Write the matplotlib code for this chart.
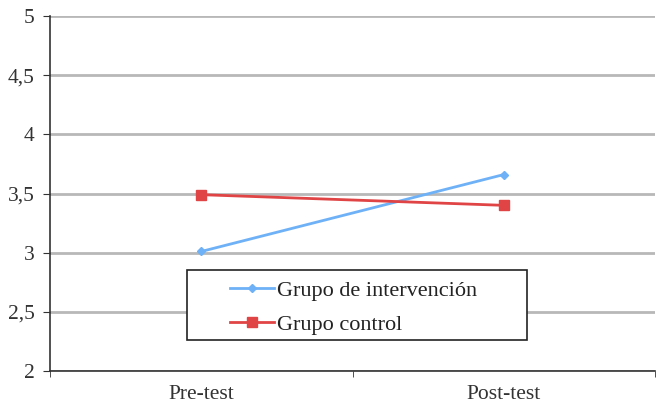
import matplotlib
matplotlib.use("Agg")
import matplotlib.pyplot as plt
from matplotlib.patches import Rectangle

# datos
momentos = ["Pre-test", "Post-test"]
intervencion = [3.01, 3.66]
control = [3.49, 3.40]
yticks = [2, 2.5, 3, 3.5, 4, 4.5, 5]
ytick_labels = ["2", "2,5", "3", "3,5", "4", "4,5", "5"]

plt.rcParams["font.family"] = ["Liberation Serif", "DejaVu Serif"]

fig = plt.figure(figsize=(6.59, 4.05), dpi=100)
ax = fig.add_axes([50 / 659, 1 - 371 / 405, 605 / 659, 355 / 405])

x = list(range(len(momentos)))
ax.plot(x, intervencion, color="#6fb1f7", lw=2, marker="D", ms=4.5,
        label="Grupo de intervención", zorder=3)
ax.plot(x, control, color="#e04444", lw=2, marker="s", ms=7,
        label="Grupo control", zorder=3)

ax.set_xlim(-0.5, 1.5)
ax.set_ylim(2, 5)
ax.set_yticks(yticks)
ax.set_yticklabels(ytick_labels, fontsize=15.5, color="#333333")
ax.set_xticks(x)
ax.set_xticklabels(momentos, fontsize=15.5, color="#333333")
ax.set_xticks([-0.5, 0.5, 1.5], minor=True)
ax.tick_params(axis="x", which="major", length=0, pad=10)
ax.tick_params(axis="x", which="minor", length=4, direction="out", color="#333333")
ax.tick_params(axis="y", length=5, direction="out", color="#333333", pad=6)

ax.grid(axis="y", color="#b8b8b8", lw=2)
ax.set_axisbelow(True)
for s in ["top", "right"]:
    ax.spines[s].set_visible(False)
for s in ["left", "bottom"]:
    ax.spines[s].set_color("#333333")
    ax.spines[s].set_linewidth(1.2)

# marco de la leyenda
ax.add_patch(Rectangle((0.226, 0.087), 0.562, 0.197, transform=ax.transAxes,
                       facecolor="white", edgecolor="#222222", lw=1.2, zorder=4))
leg = ax.legend(loc="center left", bbox_to_anchor=(0.226 + 43 / 605, 0.179),
                fontsize=16, frameon=False, handlelength=2.0,
                handletextpad=0.12, borderpad=0, labelspacing=0.62,
                borderaxespad=0)
leg.set_zorder(5)
for t in leg.get_texts():
    t.set_color("#222222")

fig.savefig("out.png", dpi=100)
